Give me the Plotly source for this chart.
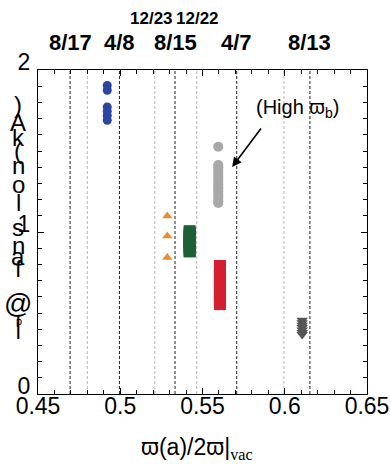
import plotly.graph_objects as go

# ---- data ----
black_lines = [0.4695, 0.4995, 0.5333, 0.5708, 0.6153]
black_labels = ["8/17", "4/8", "8/15", "4/7", "8/13"]
gray_lines = [0.4800, 0.5210, 0.5465, 0.5995]
gray_label_x = [0.5187, 0.5467]
gray_labels = ["12/23", "12/22"]

blue_x = 0.4921
blue_y = [1.905, 1.875, 1.772, 1.745, 1.718, 1.690]
orange_x = 0.5286
orange_y = [1.099, 0.975, 0.842]
green_x = 0.5422
green_y = [1.005, 0.995, 0.985, 0.975, 0.965, 0.955, 0.945, 0.935, 0.925,
           0.915, 0.905, 0.895, 0.885, 0.880]
gray_x = 0.5596
gray_y = [1.527, 1.414, 1.400, 1.385, 1.370, 1.355, 1.340, 1.325, 1.310, 1.295,
          1.280, 1.265, 1.250, 1.235, 1.220, 1.205, 1.190, 1.179]
red_x = 0.5606
red_y = [0.790, 0.770, 0.750, 0.730, 0.710, 0.690, 0.670, 0.650, 0.630,
         0.610, 0.590, 0.570, 0.555]
dgray_x = 0.6106
dgray_y = [0.455, 0.440, 0.425, 0.410, 0.395, 0.380, 0.367]

x_ticks = [0.45, 0.5, 0.55, 0.6, 0.65]
x_ticktext = ["0.45", "0.5", "0.55", "0.6", "0.65"]
y_ticks = [0, 1, 2]
y_ticktext = ["0", "1", "2"]

FONT = "Liberation Sans, Arial, sans-serif"

fig = go.Figure()

def add_series(x, ys, color, symbol, size):
    fig.add_trace(go.Scatter(
        x=[x] * len(ys), y=ys, mode="markers",
        marker=dict(color=color, symbol=symbol, size=size, line=dict(width=0)),
        showlegend=False, hoverinfo="skip"))

# vertical reference lines
for xv in black_lines:
    fig.add_vline(x=xv, line=dict(color="#222222", width=1, dash="3px,2px"), layer="below")
for xv in gray_lines:
    fig.add_vline(x=xv, line=dict(color="#b8b8b8", width=1, dash="3px,2px"), layer="below")

add_series(blue_x, blue_y, "#2a46a0", "circle", 9)
add_series(orange_x, orange_y, "#f08a2a", "triangle-up", 9)
add_series(green_x, green_y, "#1c6135", "square", 12)
add_series(gray_x, gray_y, "#a8a8a8", "circle", 10)
add_series(red_x, red_y, "#d4202e", "square", 12)
add_series(dgray_x, dgray_y, "#555555", "triangle-down", 10)

annotations = []
for xv, t in zip(black_lines, black_labels):
    annotations.append(dict(x=xv, y=1.086, xref="x", yref="paper", text="<b>%s</b>" % t,
                            showarrow=False, xanchor="center", yanchor="middle",
                            font=dict(family=FONT, size=22, color="black")))
for xv, t in zip(gray_label_x, gray_labels):
    annotations.append(dict(x=xv, y=1.159, xref="x", yref="paper", text="<b>%s</b>" % t,
                            showarrow=False, xanchor="center", yanchor="middle",
                            font=dict(family=FONT, size=17, color="black")))

# (High ϖb) label and arrow
annotations.append(dict(x=0.608, y=1.765, xref="x", yref="y",
                        text="(High ϖ<sub>b</sub>)", showarrow=False,
                        xanchor="center", yanchor="middle",
                        font=dict(family=FONT, size=20, color="black")))
annotations.append(dict(x=0.568, y=1.401, xref="x", yref="y", text="",
                        showarrow=True, ax=30, ay=-40, arrowhead=2, arrowsize=1.2,
                        arrowwidth=1.6, arrowcolor="black"))

# x-axis title
annotations.append(dict(x=(197 - 38) / 329, y=(394 - 448) / 324, xref="paper", yref="paper",
                        text='ϖ(a)/2ϖ|<span style="font-family:Liberation Serif">'
                             '<sub>vac</sub></span>',
                        showarrow=False, xanchor="center", yanchor="middle",
                        font=dict(family=FONT, size=23, color="black")))

# garbled vertical y-axis title (individual glyphs stacked)
ytitle_chars = [")", "A", "k", "(", "n", "o", "l", "s", "n", "a", "f", "@", "|"]
ytitle_py = [104, 122, 137, 150, 165, 184, 202, 228, 245, 256, 268, 303, 325]
ytitle_size = [24, 24, 24, 24, 24, 24, 24, 24, 24, 24, 24, 28, 25]
for ch, py, sz in zip(ytitle_chars, ytitle_py, ytitle_size):
    annotations.append(dict(x=(18 - 38) / 329, y=(394 - py) / 324, xref="paper", yref="paper",
                            text=ch, showarrow=False, xanchor="center", yanchor="middle",
                            font=dict(family=FONT, size=sz, color="black")))
annotations.append(dict(x=(19 - 38) / 329, y=(394 - 321) / 324, xref="paper", yref="paper",
                        text="p", showarrow=False, xanchor="center", yanchor="middle",
                        font=dict(family=FONT, size=11, color="black")))

fig.update_layout(
    width=391, height=465,
    margin=dict(l=38, r=24, t=70, b=71, autoexpand=False),
    paper_bgcolor="white", plot_bgcolor="white",
    font=dict(family=FONT, color="black"),
    annotations=annotations,
    showlegend=False,
)

fig.update_xaxes(
    range=[0.45, 0.65], tickvals=x_ticks, ticktext=x_ticktext,
    showgrid=False, zeroline=False, automargin=False,
    showline=True, linecolor="black", linewidth=1, mirror="ticks",
    ticks="inside", ticklen=6, tickcolor="black", tickwidth=1,
    minor=dict(dtick=0.01, ticks="inside", ticklen=4, tickcolor="black", showgrid=False),
    tickfont=dict(family=FONT, size=23, color="black"),
    ticklabelstandoff=-9,
)
fig.update_yaxes(
    range=[0, 2], tickvals=y_ticks, ticktext=y_ticktext,
    showgrid=False, zeroline=False, automargin=False,
    showline=True, linecolor="black", linewidth=1, mirror="ticks",
    ticks="inside", ticklen=6, tickcolor="black", tickwidth=1,
    minor=dict(dtick=0.1, ticks="inside", ticklen=4, tickcolor="black", showgrid=False),
    tickfont=dict(family=FONT, size=23, color="black"),
    ticklabelstandoff=2, ticklabelshift=-8,
)

fig.write_html("out.html", config={"displayModeBar": False},
               post_script="document.body.style.margin='0';document.body.style.overflow='hidden';")
